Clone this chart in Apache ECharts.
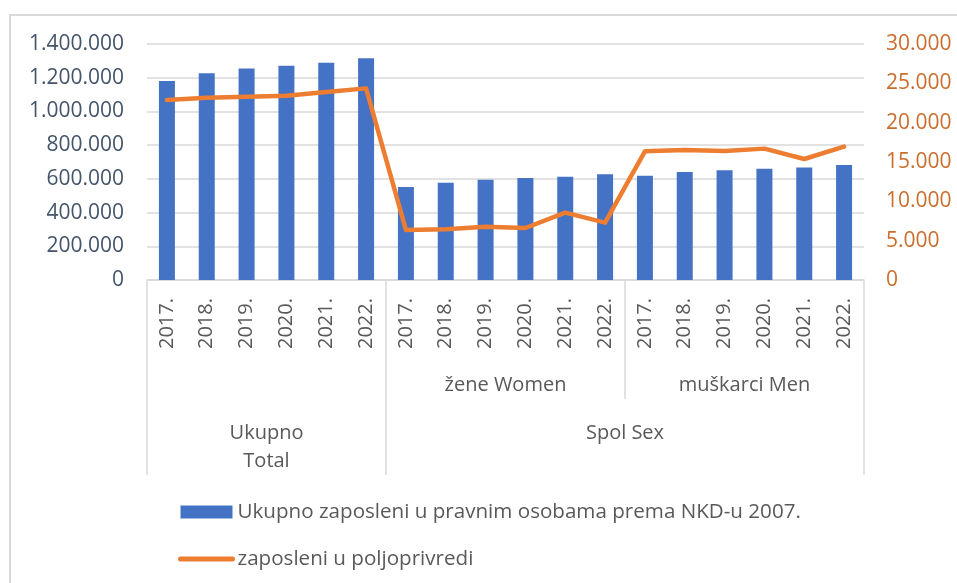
<!DOCTYPE html>
<html>
<head>
<meta charset="utf-8">
<script src="https://cdn.jsdelivr.net/npm/echarts@6/dist/echarts.min.js"></script>
<style>
  html, body { margin: 0; padding: 0; background: #fff; }
  #chart { width: 957px; height: 583px; }
</style>
</head>
<body>
<div id="chart"></div>
<script>
// podaci
var years = ['2017.', '2018.', '2019.', '2020.', '2021.', '2022.'];
var categories = years.concat(years, years);
var sexLabels = ['žene Women', 'muškarci Men'];
var outerLabels = ['Ukupno\nTotal', 'Spol Sex'];
var seriesNames = ['Ukupno zaposleni u pravnim osobama prema NKD-u 2007.', 'zaposleni u poljoprivredi'];
var employedTotal = [1180000, 1226000, 1254000, 1271000, 1289000, 1315000,
                     552000, 577000, 595000, 605000, 613000, 627000,
                     619000, 641000, 651000, 660000, 668000, 682000];
var agriculture = [22880, 23180, 23300, 23430, 23900, 24360,
                   6360, 6440, 6780, 6610, 8560, 7290,
                   16360, 16520, 16400, 16700, 15380, 16950];
var leftTicks = [0, 1400000, 200000];
var rightTicks = [0, 30000, 5000];

var FONT = 'Open Sans';
var n = years.length;

function fmt(v) {
  return String(v).replace(/\B(?=(\d{3})+(?!\d))/g, '.');
}

var chart = echarts.init(document.getElementById('chart'));

var option = {
  animation: false,
  textStyle: { fontFamily: FONT },
  graphic: [{
    type: 'rect',
    shape: { x: 10, y: 15, width: 1000, height: 700 },
    style: { fill: 'none', stroke: '#D9D9D9', lineWidth: 2 }
  }],
  grid: { left: 147, right: 93, top: 44, bottom: 303, outerBoundsMode: 'none' },
  legend: {
    orient: 'vertical',
    left: 178,
    top: 500,
    padding: 0,
    itemWidth: 52,
    itemHeight: 13,
    itemGap: 23,
    textStyle: { fontSize: 20.6, lineHeight: 24, color: '#595959', fontFamily: FONT },
    data: [
      { name: seriesNames[0], icon: 'rect' },
      { name: seriesNames[1], itemStyle: { opacity: 0 }, lineStyle: { width: 5, cap: 'round' } }
    ]
  },
  xAxis: [
    {
      type: 'category',
      data: categories,
      position: 'bottom',
      axisLine: { onZero: false, lineStyle: { color: '#D9D9D9', width: 1.5 } },
      axisTick: {
        show: true,
        length: 195,
        interval: function (i) { return i === 0 || i === n; },
        lineStyle: { color: '#D9D9D9', width: 1.5 }
      },
      axisLabel: { interval: 0, rotate: 90, margin: 18, fontSize: 20, color: '#595959', fontFamily: FONT }
    },
    {
      type: 'value',
      min: 0,
      max: 3 * n,
      position: 'bottom',
      axisLine: { show: false, onZero: false },
      splitLine: { show: false },
      axisTick: {
        show: true,
        customValues: [2 * n],
        length: 119,
        lineStyle: { color: '#D9D9D9', width: 1.5 }
      },
      axisLabel: {
        customValues: [1.5 * n, 2.5 * n],
        formatter: function (v) { return v < 2 * n ? sexLabels[0] : sexLabels[1]; },
        margin: 91,
        fontSize: 20,
        lineHeight: 28,
        color: '#595959',
        fontFamily: FONT
      }
    },
    {
      type: 'value',
      min: 0,
      max: 3 * n,
      position: 'bottom',
      axisLine: { show: false, onZero: false },
      splitLine: { show: false },
      axisTick: { show: false },
      axisLabel: {
        customValues: [0.5 * n, 2 * n],
        formatter: function (v) { return v < n ? outerLabels[0] : outerLabels[1]; },
        margin: 139,
        fontSize: 20,
        lineHeight: 28,
        color: '#595959',
        fontFamily: FONT
      }
    }
  ],
  yAxis: [
    {
      type: 'value',
      min: leftTicks[0],
      max: leftTicks[1],
      interval: leftTicks[2],
      axisLine: { show: false, onZero: false },
      axisTick: { show: false },
      splitLine: { lineStyle: { color: '#D9D9D9', width: 1.5 } },
      axisLabel: { formatter: fmt, margin: 23, fontSize: 21, color: '#44546A', fontFamily: FONT }
    },
    {
      type: 'value',
      position: 'right',
      min: rightTicks[0],
      max: rightTicks[1],
      interval: rightTicks[2],
      axisLine: { show: false, onZero: false },
      axisTick: { show: false },
      splitLine: { show: false },
      axisLabel: { formatter: fmt, margin: 22, fontSize: 21, color: '#CB6D2D', fontFamily: FONT }
    }
  ],
  series: [
    {
      name: seriesNames[0],
      type: 'bar',
      xAxisIndex: 0,
      yAxisIndex: 0,
      barWidth: 16,
      itemStyle: { color: '#4472C4' },
      data: employedTotal
    },
    {
      name: seriesNames[1],
      type: 'line',
      xAxisIndex: 0,
      yAxisIndex: 1,
      symbol: 'none',
      itemStyle: { color: '#ED7D31' },
      lineStyle: { color: '#ED7D31', width: 4.5, cap: 'round', join: 'round' },
      data: agriculture
    }
  ]
};

chart.setOption(option);
</script>
</body>
</html>
